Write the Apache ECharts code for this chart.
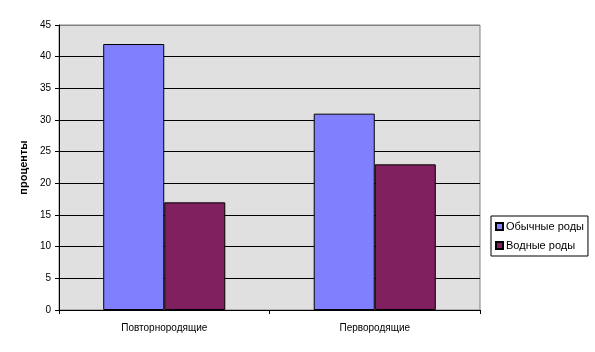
<!DOCTYPE html>
<html>
<head>
<meta charset="utf-8">
<script src="https://cdn.jsdelivr.net/npm/echarts@6/dist/echarts.min.js"></script>
<style>
html, body { margin: 0; padding: 0; background: #fff; }
#chart { width: 595px; height: 352px; }
</style>
</head>
<body>
<div id="chart"></div>
<script>
const categories = ['Повторнородящие', 'Первородящие'];
const usualBirth = [42, 31];
const waterBirth = [17, 23];
const seriesNames = ['Обычные роды', 'Водные роды'];

const chart = echarts.init(document.getElementById('chart'));
const font = '"Liberation Sans", Arial, sans-serif';
const option = {
    animation: false,
    grid: {
        left: 59, right: 115, top: 25, bottom: 42,
        show: true,
        backgroundColor: '#E0E0E0',
        borderColor: '#808080',
        borderWidth: 1
    },
    legend: {
        orient: 'vertical',
        left: 491, top: 216,
        padding: [5, 4, 5, 4],
        itemGap: 8,
        itemWidth: 7, itemHeight: 7,
        icon: 'rect',
        borderColor: '#000', borderWidth: 1,
        textStyle: { fontFamily: font, fontSize: 11, color: '#000', padding: [0, 0, 0, -2] },
        data: seriesNames
    },
    xAxis: {
        type: 'category',
        data: categories,
        axisLine: { lineStyle: { color: '#000', width: 1 } },
        axisTick: { show: true, length: 4, lineStyle: { color: '#000' } },
        axisLabel: { fontFamily: font, fontSize: 10, color: '#000', margin: 13 }
    },
    yAxis: {
        type: 'value',
        min: 0, max: 45, interval: 5,
        name: 'проценты',
        nameLocation: 'middle',
        nameGap: 24,
        nameTextStyle: { fontFamily: font, fontSize: 11, fontWeight: 'bold', color: '#000' },
        axisLine: { show: true, lineStyle: { color: '#000', width: 1 } },
        axisTick: { show: true, length: 4, lineStyle: { color: '#000' } },
        axisLabel: { fontFamily: font, fontSize: 10, color: '#000', margin: 8 },
        splitLine: { show: true, lineStyle: { color: ['#000','#000','#000','#000','#000','#000','#000','#000','#000','#808080'], width: 1 } }
    },
    series: [
        {
            name: seriesNames[0], type: 'bar', data: usualBirth,
            barGap: '0%', barCategoryGap: '42%',
            itemStyle: { color: '#8080FF', borderColor: '#000', borderWidth: 1 }
        },
        {
            name: seriesNames[1], type: 'bar', data: waterBirth,
            barGap: '0%', barCategoryGap: '42%',
            itemStyle: { color: '#80205F', borderColor: '#000', borderWidth: 1 }
        }
    ]
};
chart.setOption(option);
</script>
</body>
</html>
